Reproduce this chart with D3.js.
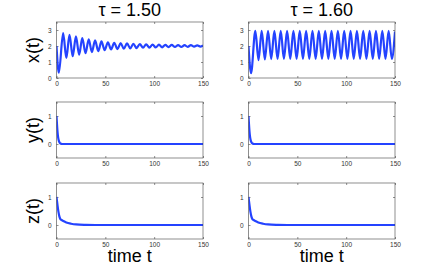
<!DOCTYPE html>
<html>
<head>
<meta charset="utf-8">
<script src="https://cdn.jsdelivr.net/npm/d3@7"></script>
<style>
  body { margin: 0; background: #fff; }
  .tick text { font-family: "Liberation Sans", Arial, sans-serif; font-size: 6.5px; fill: #333; }
  .tick line { stroke: #444; stroke-width: 0.6; }
  .lbl { font-family: "Liberation Sans", Arial, sans-serif; fill: #000; }
</style>
</head>
<body>
<div class="chart"></div>
<script>
var width = 436, height = 269;

// data
var titles = ["\u03c4 = 1.50", "\u03c4 = 1.60"];
var rowLabels = ["x(t)", "y(t)", "z(t)"];
var timeTicks = [0, 50, 100, 150];
var xTicks = [0, 1, 2, 3];
var yzTicks = [0, 1];

// x(t), tau = 1.50 (turning points)
var x15T = [0, 2.4, 6.8, 10.1, 13.3, 16.6, 19.9, 23.2, 26.4, 29.7, 33.0, 36.2, 39.5, 42.8, 46.0, 49.3,
  52.6, 55.9, 59.1, 62.4, 65.7, 68.9, 72.2, 75.5, 78.7, 82.0, 85.3, 88.6, 91.8, 95.1, 98.4, 101.6,
  104.9, 108.2, 111.4, 114.7, 118.0, 121.3, 124.5, 127.8, 131.1, 134.3, 137.6, 140.9, 144.1, 147.4, 150];
var x15V = [2.0, 0.33, 2.80, 1.25, 2.70, 1.36, 2.60, 1.46, 2.50, 1.55, 2.42, 1.62, 2.35, 1.68, 2.29, 1.74,
  2.23, 1.78, 2.20, 1.81, 2.18, 1.83, 2.16, 1.85, 2.14, 1.87, 2.12, 1.89, 2.11, 1.90, 2.09, 1.91,
  2.08, 1.92, 2.07, 1.93, 2.07, 1.94, 2.06, 1.94, 2.05, 1.95, 2.05, 1.96, 2.04, 1.96, 2.03];

// x(t), tau = 1.60
var x16T = [0, 2.6, 7.0, 10.25, 13.5, 16.75, 20.0, 23.25, 26.5, 29.75, 33.0, 36.25, 39.5, 42.75, 46.0, 49.25,
  52.5, 55.75, 59.0, 62.25, 65.5, 68.75, 72.0, 75.25, 78.5, 81.75, 85.0, 88.25, 91.5, 94.75, 98.0, 101.25,
  104.5, 107.75, 111.0, 114.25, 117.5, 120.75, 124.0, 127.25, 130.5, 133.75, 137.0, 140.25, 143.5, 146.75, 150];
var x16V = [2.0, 0.30, 2.95, 1.12, 2.95, 1.16, 2.95, 1.18, 2.95, 1.19, 2.95, 1.2, 2.95, 1.2, 2.95, 1.2,
  2.95, 1.2, 2.95, 1.2, 2.95, 1.2, 2.95, 1.2, 2.95, 1.2, 2.95, 1.2, 2.95, 1.2, 2.95, 1.2,
  2.95, 1.2, 2.95, 1.2, 2.95, 1.2, 2.95, 1.2, 2.95, 1.2, 2.95, 1.2, 2.95, 1.2, 2.9];

// y(t)
var yT = [0, 0.5, 1, 1.5, 2, 3, 4, 6, 150];
var yV = [1.0, 0.7, 0.45, 0.28, 0.17, 0.06, 0.02, 0, 0];

// z(t)
var zT = [0, 1, 2, 3, 4, 5, 7, 10, 15, 20, 30, 40, 150];
var zV = [1.0, 0.72, 0.47, 0.3, 0.21, 0.18, 0.14, 0.09, 0.045, 0.02, 0.005, 0, 0];

var cols = [[56.5, 203], [248.5, 395]];
var rows = [[22, 78], [102, 158], [183, 239]];
var domains = [[0, 3.5], [-0.5, 1.5], [-0.5, 1.5]];
var rowTicks = [xTicks, yzTicks, yzTicks];
var series = [
  [[x15T, x15V], [x16T, x16V]],
  [[yT, yV], [yT, yV]],
  [[zT, zV], [zT, zV]]
];

var svg = d3.select('.chart')
  .append("svg")
  .attr("width", width)
  .attr("height", height);

var fmt = d3.format("d");
var clipId = 0;
function panel(r, c) {
  var x = d3.scaleLinear().domain([0, 150]).range(cols[c]);
  var y = d3.scaleLinear().domain(domains[r]).range([rows[r][1], rows[r][0]]);
  var g = svg.append("g");

  // axes, ticks pointing in on all four sides
  g.append("g")
    .attr("transform", "translate(0," + rows[r][1] + ")")
    .call(d3.axisBottom(x).tickValues(timeTicks).tickFormat(fmt).tickSizeInner(-2).tickSizeOuter(0).tickPadding(3))
    .call(function(a) { a.select(".domain").remove(); });
  g.append("g")
    .attr("transform", "translate(0," + rows[r][0] + ")")
    .call(d3.axisTop(x).tickValues(timeTicks).tickSizeInner(-2).tickSizeOuter(0).tickFormat(""))
    .call(function(a) { a.select(".domain").remove(); });
  g.append("g")
    .attr("transform", "translate(" + cols[c][0] + ",0)")
    .call(d3.axisLeft(y).tickValues(rowTicks[r]).tickFormat(fmt).tickSizeInner(-2).tickSizeOuter(0).tickPadding(5))
    .call(function(a) { a.select(".domain").remove(); });
  g.append("g")
    .attr("transform", "translate(" + cols[c][1] + ",0)")
    .call(d3.axisRight(y).tickValues(rowTicks[r]).tickSizeInner(-2).tickSizeOuter(0).tickFormat(""))
    .call(function(a) { a.select(".domain").remove(); });

  clipId++;
  svg.append("clipPath").attr("id", "clip" + clipId)
    .append("rect")
    .attr("x", cols[c][0]).attr("y", rows[r][0])
    .attr("width", cols[c][1] - cols[c][0]).attr("height", rows[r][1] - rows[r][0]);

  var s = series[r][c];
  var pts = s[0].map(function(t, i) { return [t, s[1][i]]; });
  g.append("path")
    .datum(pts)
    .attr("clip-path", "url(#clip" + clipId + ")")
    .attr("fill", "none")
    .attr("stroke", "#2443ff")
    .attr("stroke-width", 2.2)
    .attr("stroke-linejoin", "round")
    .attr("d", d3.line()
      .curve(d3.curveMonotoneX)
      .x(function(d) { return x(d[0]); })
      .y(function(d) { return y(d[1]); }));

  // box
  g.append("rect")
    .attr("x", cols[c][0]).attr("y", rows[r][0])
    .attr("width", cols[c][1] - cols[c][0]).attr("height", rows[r][1] - rows[r][0])
    .attr("fill", "none")
    .attr("stroke", "#444")
    .attr("stroke-width", 0.6);
}

for (var r = 0; r < 3; r++) {
  for (var c = 0; c < 2; c++) {
    panel(r, c);
  }
  svg.append("text")
    .attr("class", "lbl")
    .attr("text-anchor", "middle")
    .attr("transform", "translate(39," + (rows[r][0] + rows[r][1]) / 2 + ") rotate(-90)")
    .style("font-size", "18px")
    .text(rowLabels[r]);
}

titles.forEach(function(t, c) {
  svg.append("text")
    .attr("class", "lbl")
    .attr("text-anchor", "middle")
    .attr("x", (cols[c][0] + cols[c][1]) / 2)
    .attr("y", 16)
    .style("font-size", "18px")
    .text(t);
  svg.append("text")
    .attr("class", "lbl")
    .attr("text-anchor", "middle")
    .attr("x", (cols[c][0] + cols[c][1]) / 2)
    .attr("y", 262)
    .style("font-size", "18px")
    .text("time t");
});
</script>
</body>
</html>
